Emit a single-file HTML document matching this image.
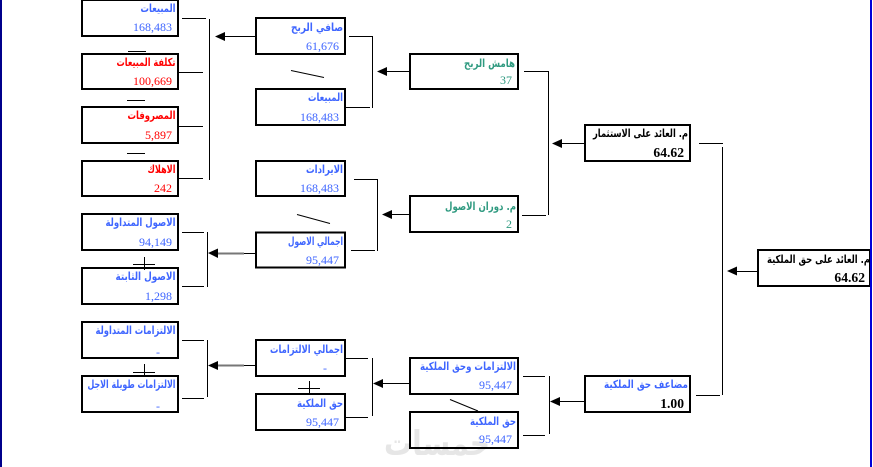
<!DOCTYPE html>
<html lang="ar">
<head>
<meta charset="utf-8">
<title>Diagram</title>
<style>
html,body{margin:0;padding:0;background:#fff;width:873px;height:467px;overflow:hidden}
svg{display:block}
.b{fill:#fff;stroke:#000;stroke-width:2}
.l{stroke:#000;stroke-width:1;fill:none}
.a{font-family:"DejaVu Sans","Liberation Sans",sans-serif;font-weight:bold;font-size:11px;direction:rtl;text-anchor:start}
.n{font-family:"Liberation Serif",serif;font-size:12px;text-anchor:end}
.k{font-family:"Liberation Serif",serif;font-size:13.6px;font-weight:bold;text-anchor:end;fill:#000}
.blue{fill:#3f66ff}.red{fill:#f00}.green{fill:#2f9a80}.black{fill:#000}
.w{font-family:"DejaVu Sans",sans-serif;font-weight:bold;font-size:34px;fill:#e6e6e6;direction:rtl;text-anchor:start;mix-blend-mode:multiply}
</style>
</head>
<body>
<svg xmlns="http://www.w3.org/2000/svg" width="873" height="467" viewBox="0 0 873 467">
<rect width="873" height="467" fill="#fff"/>

<!-- boxes -->
<g class="b">
<rect x="82" y="0" width="96" height="36"/>
<rect x="82" y="54" width="96" height="35"/>
<rect x="82" y="107" width="96" height="36"/>
<rect x="82" y="161" width="96" height="35"/>
<rect x="82" y="214" width="96" height="36"/>
<rect x="82" y="268" width="96" height="36"/>
<rect x="82" y="322" width="96" height="36"/>
<rect x="82" y="376" width="96" height="36"/>
<rect x="256" y="18" width="89" height="36"/>
<rect x="256" y="89" width="89" height="36"/>
<rect x="256" y="161" width="89" height="35"/>
<rect x="256" y="232.500" width="89" height="35"/>
<rect x="256" y="340" width="89" height="36"/>
<rect x="256" y="394" width="89" height="36"/>
<rect x="410" y="54" width="108" height="35"/>
<rect x="410" y="196" width="108" height="36"/>
<rect x="410" y="358" width="108" height="36"/>
<rect x="410" y="412" width="108" height="36"/>
<rect x="585" y="125" width="105" height="36"/>
<rect x="585" y="376" width="105" height="36"/>
<rect x="758" y="250" width="112" height="36"/>
</g>

<text class="w" x="490" y="455" textLength="106" lengthAdjust="spacingAndGlyphs">خمسات</text>

<!-- side bars -->
<rect x="0" y="0" width="2" height="467" fill="#00008b"/>
<rect x="870" y="0" width="2" height="467" fill="#0000d8"/>

<!-- connector lines -->
<g class="l">
<path d="M182 18.500H206M179 72.500H203M179 126.500H203M179 178.500H203M209.500 19V180"/>
<path d="M182 232.500H204M182 286.500H204M207.500 232V287"/>
<path d="M182 340.500H204M182 398.500H204M207.500 340V397"/>
<path d="M349 36.500H372M346 107.500H370M372.500 36V108"/>
<path d="M354 179.500H377M351 250.500H375M377.500 179V251"/>
<path d="M346 358.500H368M346 417.500H368M372.500 358V416"/>
<path d="M524 71.500H548M522 215.500H546M548.500 71V215"/>
<path d="M523 376.500H545M523 435.500H545M549.500 376V434"/>
<path d="M699 143.500H723M696 395.500H720M722.500 147V395"/>
<!-- arrow shafts -->
<path d="M224 36.500H255M387 71.500H409M392 214.500H409M562 143.500H584M383 383.500H409M560 401.500H584M737 271.500H757"/>
<path d="M244 253.500H255M244 365.500H255"/>
<!-- operators -->
<path d="M128 51.500H146M127 100.500H145M127 153.500H145"/>
<path d="M133 264.500H155M144.500 257V270M133 372.500H155M144.500 364V377M298 388.500H320M309.500 381V394"/>
<path d="M291 70.500L324 77.500M297 214.500L330 223.500M450 399.500L478 411"/>
</g>
<path d="M218 253.500H244M218 365.500H244" stroke="#777" stroke-width="2" fill="none"/>

<!-- arrowheads -->
<g fill="#000">
<path d="M215 36.500L225 32V41Z"/>
<path d="M208 253L218 248.500V258Z"/>
<path d="M208 365.500L218 361V370Z"/>
<path d="M377 71.500L387 67V76Z"/>
<path d="M382 214.500L392 210V219Z"/>
<path d="M373 383.500L383 379V388Z"/>
<path d="M552 143.500L562 139V148Z"/>
<path d="M550 401.500L560 397V406Z"/>
<path d="M727 271L737 266.500V275.500Z"/>
</g>

<!-- labels -->
<text class="a blue" x="175.500" y="12" textLength="35" lengthAdjust="spacingAndGlyphs">المبيعات</text>
<text class="a red" x="175.500" y="66" textLength="59" lengthAdjust="spacingAndGlyphs">تكلفة المبيعات</text>
<text class="a red" x="175.500" y="119" textLength="48" lengthAdjust="spacingAndGlyphs">المصروفات</text>
<text class="a red" x="175.500" y="173" textLength="28" lengthAdjust="spacingAndGlyphs">الاهلاك</text>
<text class="a blue" x="175.500" y="226" textLength="70" lengthAdjust="spacingAndGlyphs">الاصول المتداولة</text>
<text class="a blue" x="175.500" y="280" textLength="60" lengthAdjust="spacingAndGlyphs">الاصول الثابتة</text>
<text class="a blue" x="175.500" y="334" textLength="80" lengthAdjust="spacingAndGlyphs">الالتزامات المتداولة</text>
<text class="a blue" x="175.500" y="388" textLength="88" lengthAdjust="spacingAndGlyphs">الالتزامات طويلة الاجل</text>
<text class="a blue" x="343" y="31" textLength="52" lengthAdjust="spacingAndGlyphs">صافي الربح</text>
<text class="a blue" x="343" y="101" textLength="35" lengthAdjust="spacingAndGlyphs">المبيعات</text>
<text class="a blue" x="343" y="173" textLength="37" lengthAdjust="spacingAndGlyphs">الايرادات</text>
<text class="a blue" x="343" y="245" textLength="55" lengthAdjust="spacingAndGlyphs">اجمالي الاصول</text>
<text class="a blue" x="343" y="353" textLength="73" lengthAdjust="spacingAndGlyphs">اجمالي الالتزامات</text>
<text class="a blue" x="343" y="407" textLength="46" lengthAdjust="spacingAndGlyphs">حق الملكية</text>
<text class="a green" x="515" y="67" textLength="51" lengthAdjust="spacingAndGlyphs">هامش الربح</text>
<text class="a green" x="516" y="210" textLength="71" lengthAdjust="spacingAndGlyphs">م. دوران الاصول</text>
<text class="a blue" x="516" y="370" textLength="96" lengthAdjust="spacingAndGlyphs">الالتزامات وحق الملكية</text>
<text class="a blue" x="516" y="425" textLength="46" lengthAdjust="spacingAndGlyphs">حق الملكية</text>
<text class="a black" x="688" y="137" textLength="95" lengthAdjust="spacingAndGlyphs">م. العائد على الاستثمار</text>
<text class="a blue" x="688" y="388" textLength="84" lengthAdjust="spacingAndGlyphs">مضاعف حق الملكية</text>
<text class="a black" x="870" y="263" textLength="103" lengthAdjust="spacingAndGlyphs">م. العائد على حق الملكية</text>

<!-- numbers -->
<text class="n blue" x="172" y="31">168,483</text>
<text class="n red" x="172" y="85">100,669</text>
<text class="n red" x="172" y="139">5,897</text>
<text class="n red" x="172" y="192">242</text>
<text class="n blue" x="172" y="246">94,149</text>
<text class="n blue" x="172" y="300">1,298</text>
<text class="n blue" x="160" y="356">-</text>
<text class="n blue" x="160" y="410">-</text>
<text class="n blue" x="339" y="50">61,676</text>
<text class="n blue" x="339" y="121">168,483</text>
<text class="n blue" x="339" y="192">168,483</text>
<text class="n blue" x="339" y="264">95,447</text>
<text class="n blue" x="327" y="372">-</text>
<text class="n blue" x="339" y="426">95,447</text>
<text class="n green" x="512" y="84">37</text>
<text class="n green" x="512" y="228">2</text>
<text class="n blue" x="512" y="389">95,447</text>
<text class="n blue" x="512" y="443">95,447</text>
<text class="k" x="684" y="157">64.62</text>
<text class="k" x="684" y="408">1.00</text>
<text class="k" x="865" y="282">64.62</text>
</svg>
</body>
</html>
